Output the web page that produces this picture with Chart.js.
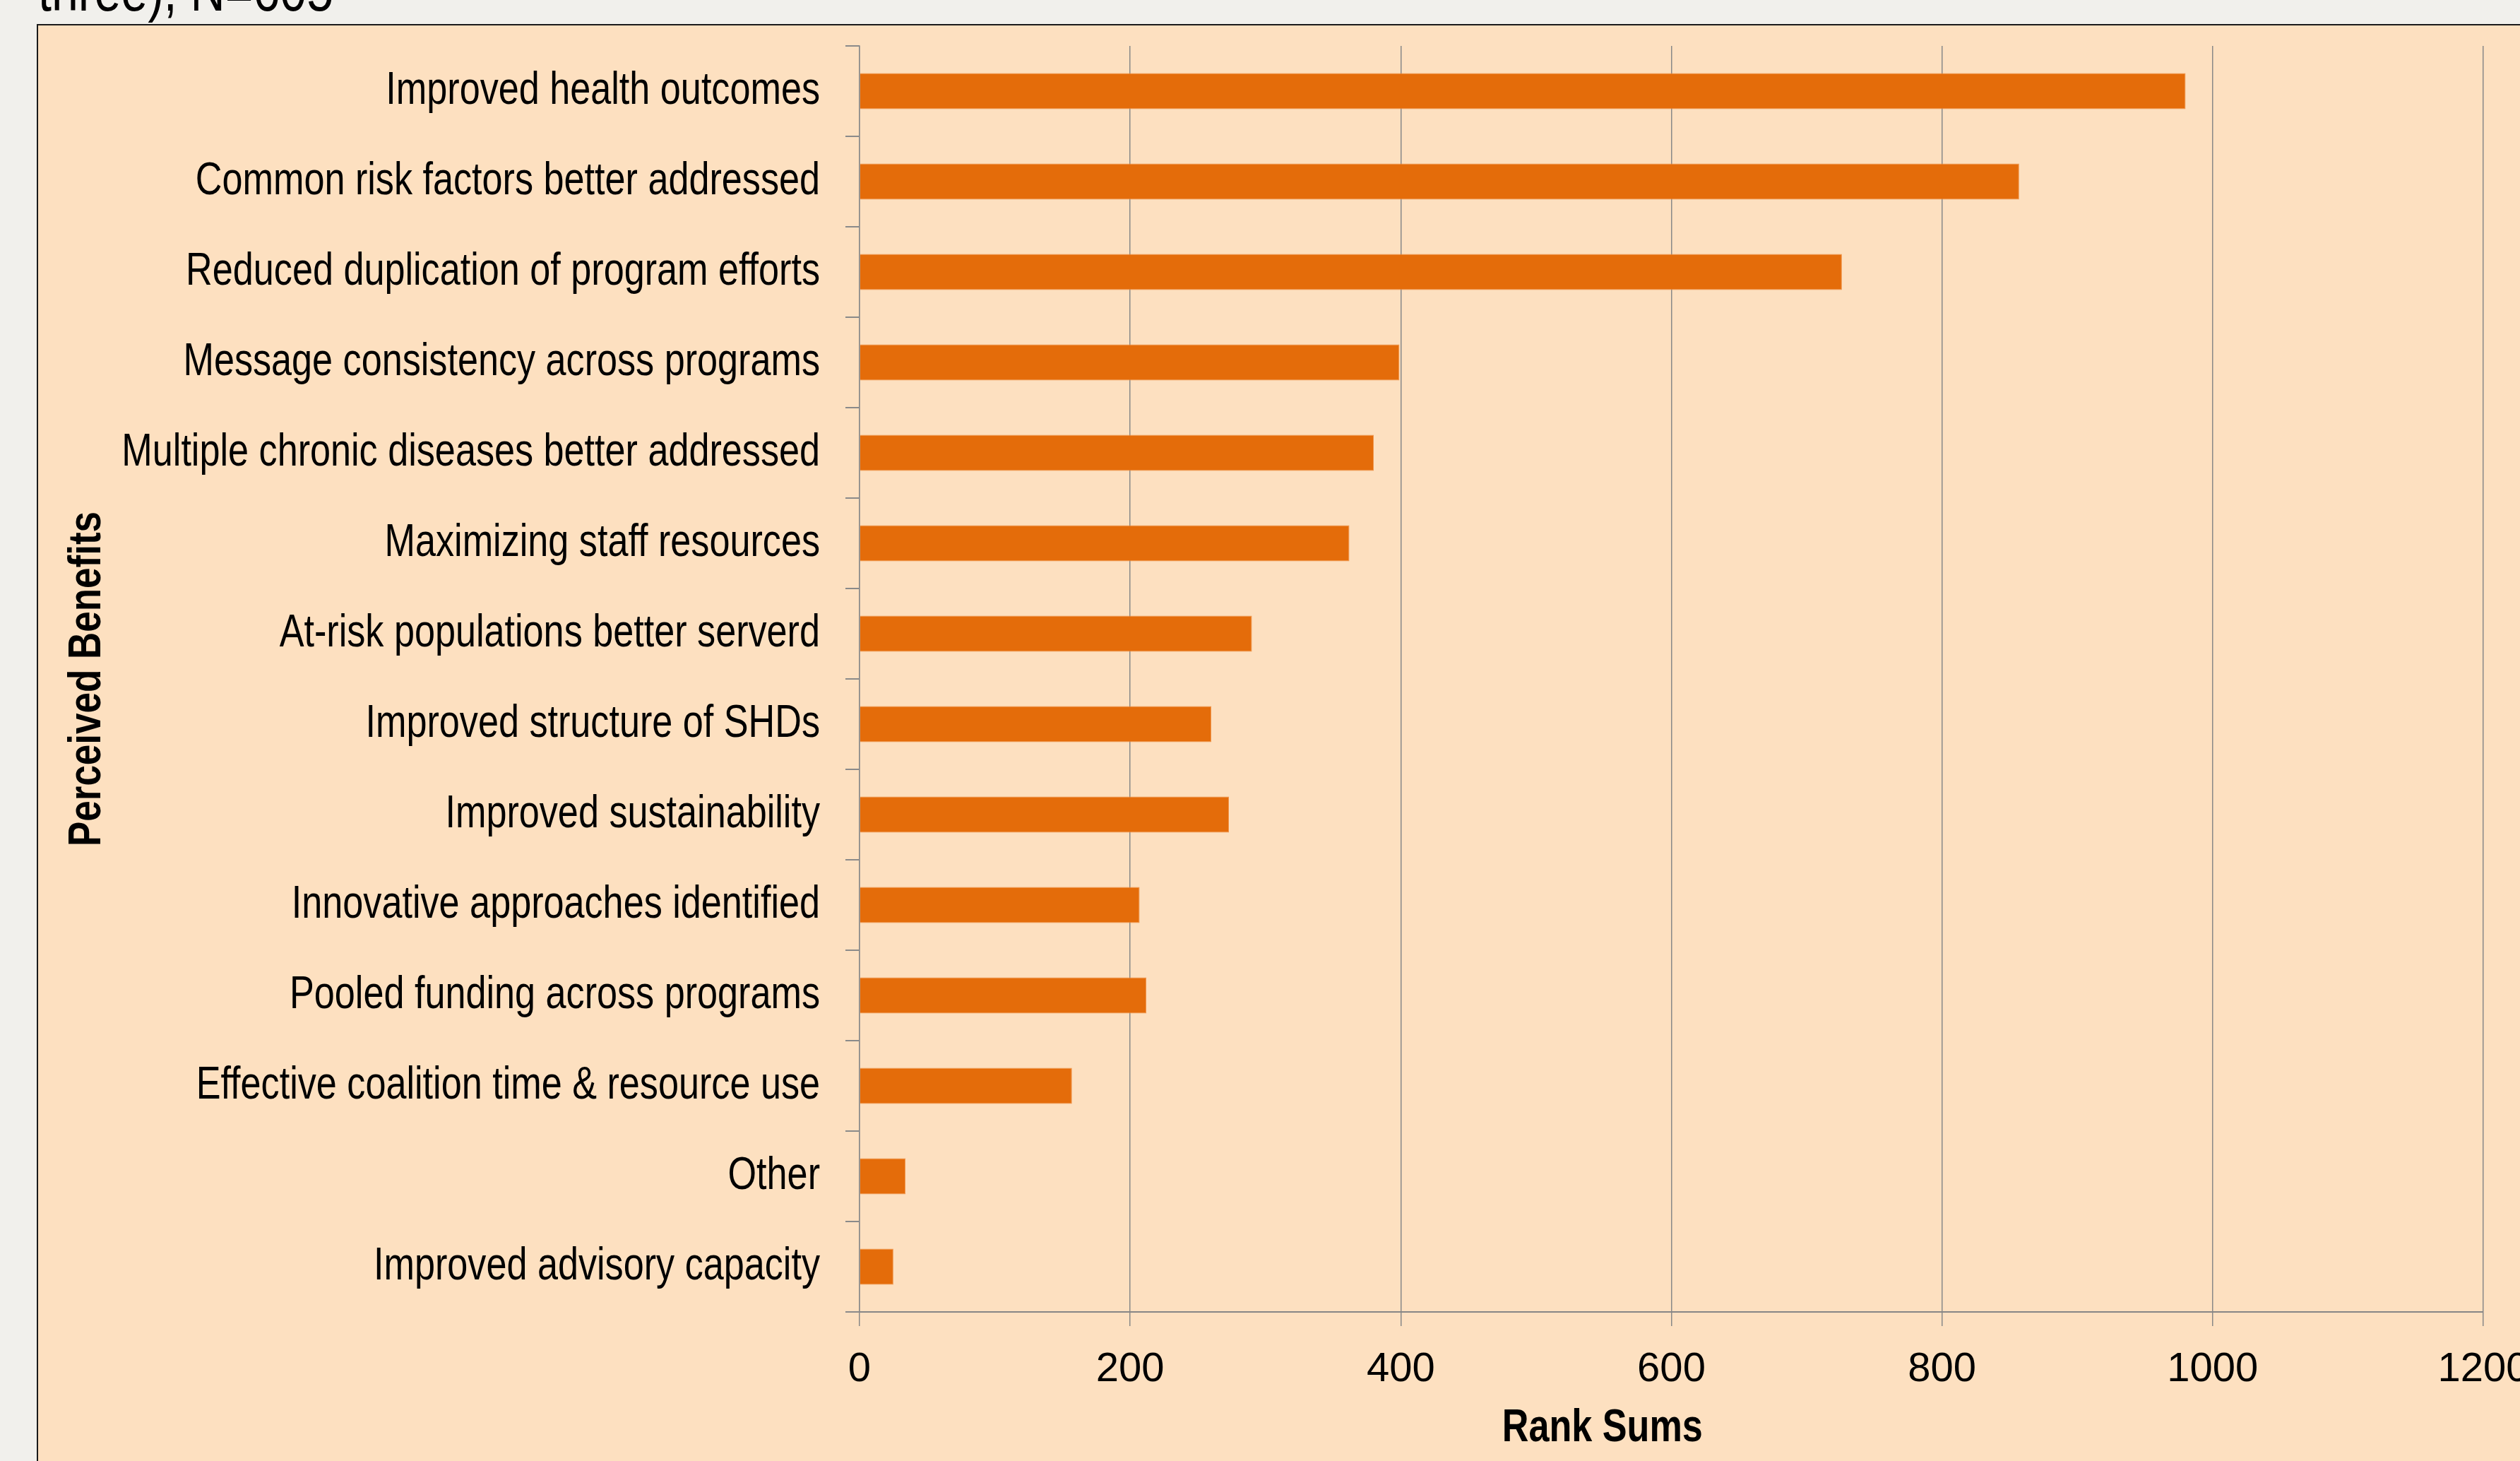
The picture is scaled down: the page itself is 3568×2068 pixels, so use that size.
<!DOCTYPE html>
<html>
<head>
<meta charset="utf-8">
<script src="https://cdn.jsdelivr.net/npm/chart.js@4.4.0/dist/chart.umd.min.js"></script>
<style>
  html, body { margin: 0; padding: 0; width: 3568px; height: 2068px; overflow: hidden; background: #f1f0ec; }
  #slideTitle {
    position: absolute; left: 54px; top: -55px; margin: 0;
    font: 83px/83px 'Liberation Sans', Arial, sans-serif; color: #000; white-space: nowrap;
    transform: scaleX(0.82); transform-origin: 0 0;
  }
  #panel {
    position: absolute; left: 52px; top: 34px; width: 3700px; height: 2100px;
    background: #fde0c0; border-top: 2px solid #1a1a1a; border-left: 2px solid #1a1a1a;
  }
  #chartBox { position: absolute; left: 0; top: 0; }
</style>
</head>
<body>
<div id="slideTitle">three), N=605</div>
<div id="panel"></div>
<div id="chartBox"><canvas id="benefitsChart" width="3700" height="2068"></canvas></div>
<script>
// Perceived benefits ranked by rank sums
const categories = [
    'Improved health outcomes',
    'Common risk factors better addressed',
    'Reduced duplication of program efforts',
    'Message consistency across programs',
    'Multiple chronic diseases better addressed',
    'Maximizing staff resources',
    'At-risk populations better serverd',
    'Improved structure of SHDs',
    'Improved sustainability',
    'Innovative approaches identified',
    'Pooled funding across programs',
    'Effective coalition time & resource use',
    'Other',
    'Improved advisory capacity'
];
const rankSums = [980, 857, 726, 399, 380, 362, 290, 260, 273, 207, 212, 157, 34, 25];
const xTickValues = [0, 200, 400, 600, 800, 1000, 1200];

const sans = "'Liberation Sans', Arial, sans-serif";
const squeeze = 0.815; // no narrow face installed, so condense by hand

// draw condensed text (category labels and axis titles)
function narrowText(ctx, text, x, y, opts) {
    ctx.save();
    ctx.translate(x, y);
    if (opts.rotate) ctx.rotate(opts.rotate);
    ctx.scale(squeeze, 1);
    ctx.font = (opts.bold ? 'bold ' : '') + opts.size + 'px ' + sans;
    ctx.fillStyle = '#000';
    ctx.textAlign = opts.align;
    ctx.textBaseline = opts.baseline;
    ctx.fillText(text, 0, 0);
    ctx.restore();
}

const narrowLabels = {
    id: 'narrowLabels',
    afterDraw(chart) {
        const {ctx, chartArea} = chart;
        const yScale = chart.scales.y;
        yScale.ticks.forEach((tick, i) => {
            narrowText(ctx, yScale.getLabelForValue(tick.value), chartArea.left - 56, yScale.getPixelForTick(i),
                {size: 64, align: 'right', baseline: 'middle'});
        });
        // axis titles
        narrowText(ctx, 'Perceived Benefits', 124, (chartArea.top + chartArea.bottom) / 2,
            {size: 65, bold: true, align: 'center', baseline: 'middle', rotate: -Math.PI / 2});
        const xMid = chartArea.left + (chartArea.right - chartArea.left) * 0.4575;
        narrowText(ctx, 'Rank Sums', xMid, chartArea.bottom + 183,
            {size: 64, bold: true, align: 'center', baseline: 'alphabetic'});
    }
};

new Chart(document.getElementById('benefitsChart'), {
    type: 'bar',
    data: {
        labels: categories,
        datasets: [{
            label: 'Rank Sums',
            data: rankSums,
            backgroundColor: '#e46c0a',
            borderColor: '#f0954c',
            borderWidth: 1,
            barPercentage: 0.4,
            categoryPercentage: 1.0
        }]
    },
    options: {
        indexAxis: 'y',
        responsive: false,
        devicePixelRatio: 1,
        animation: false,
        layout: {
            padding: {top: 65, right: 184, bottom: 0, left: 0}
        },
        scales: {
            x: {
                min: 0,
                max: 1200,
                afterBuildTicks: (scale) => {
                    scale.ticks = xTickValues.map(v => ({value: v}));
                },
                afterFit: (scale) => { scale.height = 211; },
                ticks: {
                    color: '#000',
                    padding: 27,
                    font: {family: sans, size: 58},
                    callback: (v) => String(v)
                },
                grid: {
                    color: '#888888',
                    lineWidth: 1.5,
                    tickLength: 20
                },
                border: {color: '#868686', width: 2}
            },
            y: {
                afterFit: (scale) => { scale.width = 1217; },
                ticks: {
                    display: false,
                    padding: 0
                },
                grid: {
                    drawOnChartArea: false,
                    color: '#8a8a8a',
                    lineWidth: 2,
                    tickLength: 20
                },
                border: {color: '#8a8a8a', width: 1.5}
            }
        },
        plugins: {
            legend: {display: false},
            tooltip: {enabled: false}
        }
    },
    plugins: [narrowLabels]
});
</script>
</body>
</html>
